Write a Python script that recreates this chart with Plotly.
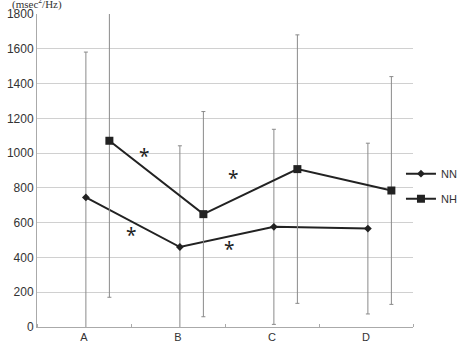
import plotly.graph_objects as go

categories = ["A", "B", "C", "D"]
nn_mean = [745, 460, 576, 566]
nn_sd = [836, 582, 561, 491]
nh_mean = [1071, 649, 908, 785]
nh_sd = [900, 590, 772, 655]
y_ticks = [0, 200, 400, 600, 800, 1000, 1200, 1400, 1600, 1800]

# significance markers: (x position in category units, y value)
stars = [(0.64, 984), (0.50, 530), (1.585, 858), (1.545, 449)]

nn_offset = 0.02
nh_offset = 0.27
idx = list(range(len(categories)))

fig = go.Figure()
fig.add_trace(go.Scatter(
    x=[i + nn_offset for i in idx], y=nn_mean, name="NN", mode="lines+markers",
    line=dict(color="#222222", width=2),
    marker=dict(symbol="diamond", size=6, color="#222222"),
    error_y=dict(type="data", array=nn_sd, visible=True, color="#8a8a8a", thickness=1, width=2),
    legendgroup="a",
))
fig.add_trace(go.Scatter(
    x=[i + nh_offset for i in idx], y=nh_mean, name="NH", mode="lines+markers",
    line=dict(color="#222222", width=2),
    marker=dict(symbol="square", size=8, color="#222222"),
    error_y=dict(type="data", array=nh_sd, visible=True, color="#8a8a8a", thickness=1, width=2),
    legendgroup="b",
))

for sx, sy in stars:
    fig.add_annotation(x=sx, y=sy, text="*", showarrow=False,
                       font=dict(family="Noto Sans", size=19, color="#222222"))

fig.add_annotation(xref="paper", yref="paper", x=-0.072, y=1.0, xanchor="left", yanchor="bottom",
                   text="(msec<sup>2</sup>/Hz)", showarrow=False, yshift=1,
                   font=dict(family="Liberation Serif", size=11, color="#333"))

fig.update_layout(
    width=460, height=346,
    margin=dict(l=37, r=47, t=14, b=19, autoexpand=False),
    paper_bgcolor="white", plot_bgcolor="white",
    showlegend=True,
    legend=dict(x=0.968, y=0.45, xanchor="left", yanchor="middle",
                font=dict(family="Liberation Sans", size=11, color="#333"),
                bgcolor="rgba(0,0,0,0)", tracegroupgap=6, itemwidth=30),
    font=dict(family="Liberation Sans", size=11, color="#333"),
)
fig.update_xaxes(
    range=[-0.5, 3.5], tickvals=idx, ticktext=categories, showgrid=False,
    showline=True, linecolor="#aaaaaa", linewidth=1, ticks="", zeroline=False,
    minor=dict(tick0=0.5, dtick=1, ticks="inside", ticklen=3, tickcolor="#aaaaaa"),
    tickfont=dict(size=11), automargin=False,
)
fig.update_yaxes(
    range=[0, 1800], tickvals=y_ticks, showgrid=True, gridcolor="#d0d0d0", gridwidth=1,
    showline=True, linecolor="#aaaaaa", linewidth=1, zeroline=False, ticks="",
    tickfont=dict(size=12), automargin=False,
)

fig.write_html("out.html")
